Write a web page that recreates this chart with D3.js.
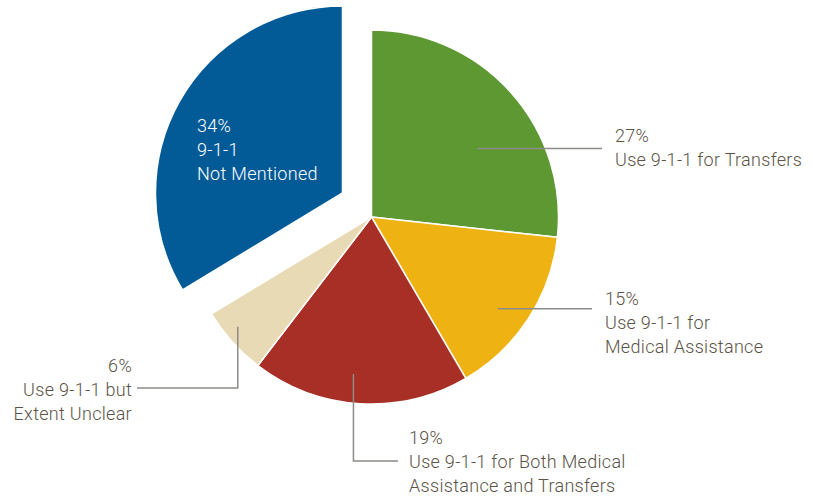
<!DOCTYPE html>
<html>
<head>
<meta charset="utf-8">
<script src="https://cdn.jsdelivr.net/npm/d3@7"></script>
<style>
  html, body { margin: 0; padding: 0; background: #fff; }
  svg { display: block; }
  text { font-family: Roboto, "Liberation Sans", sans-serif; font-weight: 300; font-size: 18px; letter-spacing: 0.3px; }
</style>
</head>
<body>
<svg id="chart" width="813" height="498"></svg>
<script>
// ---- data ----
const categories = ["Use 9-1-1 for Transfers", "Use 9-1-1 for Medical Assistance",
  "Use 9-1-1 for Both Medical Assistance and Transfers", "Use 9-1-1 but Extent Unclear",
  "9-1-1 Not Mentioned"];
const values = [27, 15, 19, 6, 34];
const percentLabels = ["27%", "15%", "19%", "6%", "34%"];
const labelLines = [
  ["27%", "Use 9-1-1 for Transfers"],
  ["15%", "Use 9-1-1 for", "Medical Assistance"],
  ["19%", "Use 9-1-1 for Both Medical", "Assistance and Transfers"],
  ["6%", "Use 9-1-1 but", "Extent Unclear"],
  ["34%", "9-1-1", "Not Mentioned"]
];
const colors = ["#5e9833", "#eeb213", "#a72f25", "#e9dab6", "#025b97"];

// ---- layout ----
const W = 813, H = 498;
const cx = 371.5, cy = 217, R = 187;
const explode = [null, null, null, null, [-29, -24]];
const lineH = 24;
// label layout: leader start (angle offset deg from slice mid, radius), text anchor & position
const labelLayout = [
  { dA: 9,   r: 126, type: "h", tx: 615, ty: 141.5, anchor: "start", gap: 13 },
  { dA: 3,   r: 156, type: "h", tx: 605, ty: 305,   anchor: "start", gap: 13 },
  { dA: 3,   r: 158, type: "v", tx: 409, ty: 444,   anchor: "start", elbowY: 461, endX: 398 },
  { dA: 2.5, r: 173, type: "v", tx: 132, ty: 371.5, anchor: "end",   elbowY: 388, endX: 137 },
  { inside: true, tx: 197, ty: 131.5, anchor: "start" }
];

const svg = d3.select("#chart");
const g = svg.append("g").attr("transform", `translate(${cx},${cy})`);

const pie = d3.pie().sort(null).value(d => d)(values);
const arc = d3.arc().innerRadius(0).outerRadius(R);

g.selectAll("path.slice").data(pie).join("path")
  .attr("class", "slice")
  .attr("d", arc)
  .attr("fill", (d, i) => colors[i])
  .attr("stroke", "#fff")
  .attr("stroke-width", 1.5)
  .attr("stroke-linejoin", "round")
  .attr("transform", (d, i) => explode[i] ? `translate(${explode[i][0]},${explode[i][1]})` : null);

const textColor = "#5b5347";
const lineColor = "#8e8c88";

pie.forEach((d, i) => {
  const L = labelLayout[i];
  const lines = labelLines[i];
  if (!L.inside) {
    const mid = (d.startAngle + d.endAngle) / 2 + L.dA * Math.PI / 180;
    const sx = L.r * Math.sin(mid), sy = -L.r * Math.cos(mid);
    let pts;
    if (L.type === "h") {
      pts = [[sx, sy], [L.tx - cx - L.gap, sy]];
    } else {
      pts = [[sx, sy], [sx, L.elbowY - cy], [L.endX - cx, L.elbowY - cy]];
    }
    g.append("path")
      .attr("d", d3.line()(pts))
      .attr("fill", "none")
      .attr("stroke", lineColor)
      .attr("stroke-width", 1.5);
  }
  const t = svg.append("text")
    .attr("x", L.tx).attr("y", L.ty)
    .attr("text-anchor", L.anchor)
    .attr("fill", L.inside ? "#ffffff" : textColor);
  lines.forEach((s, k) => {
    t.append("tspan").attr("x", L.tx).attr("y", L.ty + k * lineH).text(s);
  });
});
</script>
</body>
</html>
